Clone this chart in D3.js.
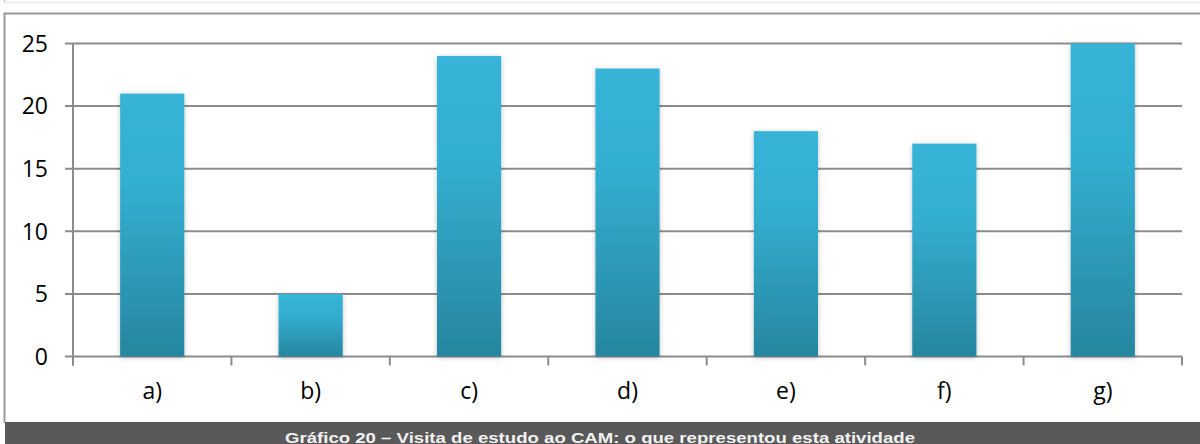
<!DOCTYPE html>
<html>
<head>
<meta charset="utf-8">
<script src="https://cdn.jsdelivr.net/npm/d3@7"></script>
<style>
  html, body { margin: 0; padding: 0; background: #fff; }
  svg { display: block; }
</style>
</head>
<body>
<svg id="chart" width="1200" height="444"></svg>
<script>
// Chart data
const categories = ["a)", "b)", "c)", "d)", "e)", "f)", "g)"];
const values = [21, 5, 24, 23, 18, 17, 25];
const yTicks = [0, 5, 10, 15, 20, 25];
const caption = "Gráfico 20 – Visita de estudo ao CAM: o que representou esta atividade";

const svg = d3.select("#chart");
const W = 1200, H = 444;
const plot = { left: 73, right: 1182, top: 43.5, bottom: 356.5 };

const defs = svg.append("defs");
const grad = defs.append("linearGradient")
  .attr("id", "barFill").attr("x1", 0).attr("y1", 0).attr("x2", 0).attr("y2", 1);
grad.append("stop").attr("offset", "0%").attr("stop-color", "#37b4d8");
grad.append("stop").attr("offset", "35%").attr("stop-color", "#33aed1");
grad.append("stop").attr("offset", "100%").attr("stop-color", "#27869f");

const shadow = defs.append("filter").attr("id", "barShadow")
  .attr("x", "-20%").attr("y", "-5%").attr("width", "140%").attr("height", "110%");
shadow.append("feGaussianBlur").attr("in", "SourceAlpha").attr("stdDeviation", 2.5).attr("result", "b");
shadow.append("feOffset").attr("in", "b").attr("dx", 0).attr("dy", 1).attr("result", "o");
shadow.append("feComponentTransfer").attr("in", "o").attr("result", "s")
  .append("feFuncA").attr("type", "linear").attr("slope", 0.25);
const merge = shadow.append("feMerge");
merge.append("feMergeNode").attr("in", "s");
merge.append("feMergeNode").attr("in", "SourceGraphic");

// Outer page rules and chart frame
svg.append("line").attr("x1", 4).attr("x2", W).attr("y1", 2.5).attr("y2", 2.5)
  .attr("stroke", "#eeeeee").attr("stroke-width", 2);
svg.append("line").attr("x1", 4.5).attr("x2", 4.5).attr("y1", 0).attr("y2", 2)
  .attr("stroke", "#bbbbbb");
svg.append("path")
  .attr("d", `M4.5,423 V13.5 H${W}`)
  .attr("fill", "none").attr("stroke", "#9a9a9a").attr("stroke-width", 2);

// Scales
const x = d3.scaleBand().domain(categories).range([plot.left, plot.right]).paddingInner(0).paddingOuter(0);
const y = d3.scaleLinear().domain([0, 25]).range([plot.bottom, plot.top]);

// Horizontal gridlines
svg.append("g").selectAll("line").data(yTicks).join("line")
  .attr("x1", plot.left - 8).attr("x2", plot.right)
  .attr("y1", d => y(d)).attr("y2", d => y(d))
  .attr("stroke", "#8c8c8c").attr("stroke-width", 2);

// Vertical axis line
svg.append("line").attr("x1", plot.left).attr("x2", plot.left)
  .attr("y1", plot.top).attr("y2", plot.bottom + 9)
  .attr("stroke", "#8c8c8c").attr("stroke-width", 2);

// Category tick marks
const tickXs = categories.map(c => x(c)).concat([plot.right]);
svg.append("g").selectAll("line").data(tickXs).join("line")
  .attr("x1", d => d).attr("x2", d => d)
  .attr("y1", plot.bottom).attr("y2", plot.bottom + 9)
  .attr("stroke", "#8c8c8c").attr("stroke-width", 2);

// Bars
const barW = x.bandwidth() * 0.405;
svg.append("g").selectAll("rect").data(values).join("rect")
  .attr("x", (d, i) => x(categories[i]) + x.bandwidth() / 2 - barW / 2)
  .attr("y", d => y(d))
  .attr("width", barW)
  .attr("height", d => y(0) - y(d))
  .attr("fill", "url(#barFill)")
  .attr("filter", "url(#barShadow)");

// Y tick labels
svg.append("g").selectAll("text").data(yTicks).join("text")
  .attr("x", 48).attr("y", d => y(d))
  .attr("dy", "0.36em")
  .attr("text-anchor", "end")
  .attr("font-family", "'Open Sans', 'Noto Sans', sans-serif")
  .attr("font-size", 23)
  .attr("fill", "#000")
  .text(d => d);

// Category labels
svg.append("g").selectAll("text").data(categories).join("text")
  .attr("x", d => x(d) + x.bandwidth() / 2)
  .attr("y", 391)
  .attr("dy", "0.36em")
  .attr("text-anchor", "middle")
  .attr("font-family", "'Open Sans', 'Noto Sans', sans-serif")
  .attr("font-size", 23)
  .attr("fill", "#000")
  .text(d => d);

// Caption band
svg.append("rect").attr("x", 5).attr("y", 422).attr("width", W - 5).attr("height", H - 422)
  .attr("fill", "#595959");
svg.append("text")
  .attr("x", 600).attr("y", 443)
  .attr("text-anchor", "middle")
  .attr("font-family", "'Liberation Sans', Arial, sans-serif")
  .attr("font-weight", "bold")
  .attr("font-size", 15)
  .attr("textLength", 630)
  .attr("lengthAdjust", "spacingAndGlyphs")
  .attr("fill", "#f2f2f2")
  .text(caption);
</script>
</body>
</html>
